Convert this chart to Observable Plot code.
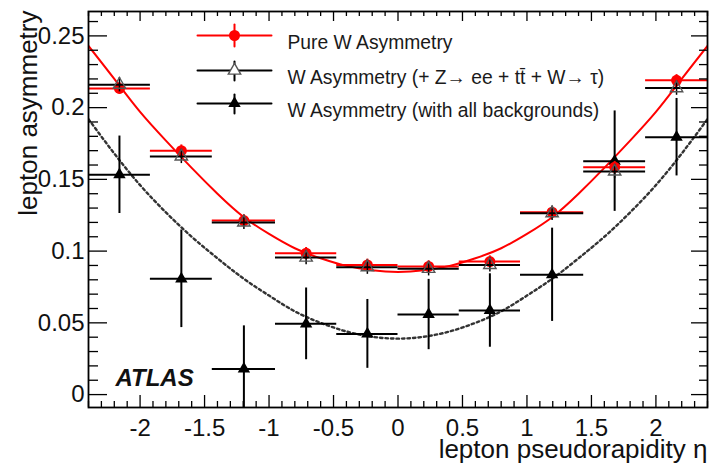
<!DOCTYPE html>
<html>
<head>
<meta charset="utf-8">
<script src="https://cdn.jsdelivr.net/npm/d3@7"></script>
<script src="https://cdn.jsdelivr.net/npm/@observablehq/plot@0.6"></script>
<style>
  html, body { margin: 0; padding: 0; background: #fff; }
  #chart { width: 711px; height: 469px; position: relative; }
</style>
</head>
<body>
<div id="chart"></div>
<script>
// Lepton charge asymmetry per pseudorapidity bin
const binLow  = [-2.4, -1.92, -1.44, -0.95, -0.475, 0, 0.475, 0.95, 1.44, 1.92];
const binHigh = [-1.92, -1.44, -0.95, -0.475, 0, 0.475, 0.95, 1.44, 1.92, 2.4];
const pureW      = [0.2134, 0.170, 0.1213, 0.0985, 0.0904, 0.0893, 0.0927, 0.1271, 0.1585, 0.219];
const pureWErr   = [0.004, 0.004, 0.004, 0.004, 0.004, 0.004, 0.004, 0.004, 0.004, 0.004];
const partialBkg = [0.216, 0.166, 0.120, 0.0955, 0.0888, 0.0877, 0.0904, 0.1264, 0.1555, 0.2136];
const partialErr = [0.005, 0.005, 0.005, 0.005, 0.005, 0.005, 0.005, 0.005, 0.005, 0.005];
const allBkg     = [0.1532, 0.0807, 0.0179, 0.0493, 0.0423, 0.0558, 0.0586, 0.0835, 0.1627, 0.1794];
const allBkgErr  = [0.027, 0.034, 0.030, 0.025, 0.024, 0.0245, 0.0256, 0.0325, 0.035, 0.027];

// Fitted curves sampled along eta
const fitEta  = [-2.4, -2.2, -2.0, -1.8, -1.6, -1.4, -1.2, -1.0, -0.8, -0.6, -0.4, -0.2, 0,
                 0.2, 0.4, 0.6, 0.8, 1.0, 1.2, 1.4, 1.6, 1.8, 2.0, 2.2, 2.4];
const fitPure = [0.243, 0.220, 0.197, 0.177, 0.158, 0.140, 0.124, 0.112, 0.102, 0.0950, 0.0897, 0.0866, 0.0855,
                 0.0866, 0.0897, 0.0950, 0.102, 0.112, 0.124, 0.140, 0.158, 0.177, 0.197, 0.220, 0.243];
const fitAll  = [0.192, 0.168, 0.146, 0.127, 0.110, 0.095, 0.081, 0.069, 0.058, 0.050, 0.0440, 0.0403, 0.039,
                 0.0403, 0.0440, 0.050, 0.058, 0.069, 0.081, 0.095, 0.110, 0.127, 0.146, 0.168, 0.192];

// Axis ticks
const xMajor = [-2, -1.5, -1, -0.5, 0, 0.5, 1, 1.5, 2];
const xMinor = d3.range(-24, 25).map(v => v / 10).filter(v => !xMajor.some(m => Math.abs(m - v) < 1e-9));
const yMajor = [0, 0.05, 0.1, 0.15, 0.2, 0.25];
const yMinor = d3.range(0, 27).map(v => v / 100).filter(v => !yMajor.some(m => Math.abs(m - v) < 1e-9));

const legendLabels = [
  "Pure W Asymmetry",
  "W Asymmetry (+ Z\u2192 ee + tt\u0304 + W\u2192 \u03c4)",
  "W Asymmetry (with all backgrounds)"
];

const bins = binLow.map((lo, i) => ({
  lo, hi: binHigh[i], eta: (lo + binHigh[i]) / 2,
  pure: pureW[i], pureErr: pureWErr[i],
  part: partialBkg[i], partErr: partialErr[i],
  all: allBkg[i], allErr: allBkgErr[i]
}));
const fits = fitEta.map((eta, i) => ({eta, pure: fitPure[i], all: fitAll[i]}));

// Layout
const W = 711, H = 469;
const mL = 88, mR = 4, mT = 11, mB = 62;
const frameW = W - mL - mR, frameH = H - mT - mB;
const xDomain = [-2.4, 2.4];
const yDomain = [-0.009, 0.267];
// data units per pixel, used to size the inward ticks
const xPerPx = (xDomain[1] - xDomain[0]) / frameW;
const yPerPx = (yDomain[1] - yDomain[0]) / frameH;

// Straight stroke used for the legend glyphs
const segShape = {draw(context, l) { context.moveTo(0, 0); context.lineTo(0, -l); }};
const seg = (opts) => Plot.vector([0], {anchor: "start", shape: segShape, stroke: "#000", strokeWidth: 2, frameAnchor: "top-left", ...opts});

// Inward tick marks on the four sides of the frame, drawn as short rules
const tickStyle = {stroke: "#000", strokeWidth: 1.3};
const rows = vals => vals.map(v => ({v}));
const ticksBottom = (vals, len) => Plot.ruleX(rows(vals), {x: "v", y1: yDomain[0], y2: yDomain[0] + len * yPerPx, ...tickStyle});
const ticksTop    = (vals, len) => Plot.ruleX(rows(vals), {x: "v", y1: yDomain[1] - len * yPerPx, y2: yDomain[1], ...tickStyle});
const ticksLeft   = (vals, len) => Plot.ruleY(rows(vals), {y: "v", x1: xDomain[0], x2: xDomain[0] + len * xPerPx, ...tickStyle});
const ticksRight  = (vals, len) => Plot.ruleY(rows(vals), {y: "v", x1: xDomain[1] - len * xPerPx, x2: xDomain[1], ...tickStyle});

const font = "'Liberation Sans', Arial, Helvetica, sans-serif";

const rowDy = [24, 59, 92];
const legendMarks = [
  seg({dx: 109, dy: rowDy[0], rotate: 90, length: 74, stroke: "#ff0000"}),
  seg({dx: 146, dy: rowDy[0] + 11, rotate: 0, length: 22, stroke: "#ff0000"}),
  Plot.dot([0], {frameAnchor: "top-left", dx: 146, dy: rowDy[0], r: 5.5, fill: "#ff0000"}),
  seg({dx: 109, dy: rowDy[1], rotate: 90, length: 74}),
  seg({dx: 146, dy: rowDy[1] + 10, rotate: 0, length: 19}),
  Plot.dot([0], {frameAnchor: "top-left", dx: 146, dy: rowDy[1], r: 4.6, symbol: "triangle", fill: "#fff", stroke: "#555", strokeWidth: 1.4}),
  seg({dx: 109, dy: rowDy[2], rotate: 90, length: 74}),
  seg({dx: 146, dy: rowDy[2] + 10, rotate: 0, length: 19}),
  Plot.dot([0], {frameAnchor: "top-left", dx: 146, dy: rowDy[2], r: 4.6, symbol: "triangle", fill: "#000"}),
  ...legendLabels.map((label, i) => Plot.text([label], {frameAnchor: "top-left", dx: 199, dy: rowDy[i], text: d => d,
    textAnchor: "start", fontSize: 19.3, fill: "#1a1a1a"}))
];

const chart = Plot.plot({
  width: W,
  height: H,
  marginLeft: mL,
  marginRight: mR,
  marginTop: mT,
  marginBottom: mB,
  x: {domain: xDomain},
  y: {domain: yDomain},
  style: {fontFamily: font, background: "#fff", color: "#111"},
  marks: [
    // fitted curves
    Plot.line(fits, {x: "eta", y: "all", stroke: "#333", strokeWidth: 2.4, strokeDasharray: "2.5,3", curve: "natural", clip: true}),
    Plot.line(fits, {x: "eta", y: "pure", stroke: "#ff0000", strokeWidth: 2, curve: "natural", clip: true}),

    // W asymmetry with all backgrounds
    Plot.ruleY(bins, {y: "all", x1: "lo", x2: "hi", stroke: "#000", strokeWidth: 2}),
    Plot.ruleX(bins, {x: "eta", y1: d => d.all - d.allErr, y2: d => d.all + d.allErr, stroke: "#000", strokeWidth: 2, clip: true}),
    Plot.dot(bins, {x: "eta", y: "all", r: 4.6, symbol: "triangle", fill: "#000"}),

    // pure W asymmetry
    Plot.ruleY(bins, {y: "pure", x1: "lo", x2: "hi", stroke: "#ff0000", strokeWidth: 2}),
    Plot.ruleX(bins, {x: "eta", y1: d => d.pure - d.pureErr, y2: d => d.pure + d.pureErr, stroke: "#ff0000", strokeWidth: 2}),
    Plot.dot(bins, {x: "eta", y: "pure", r: 5.5, fill: "#ff0000"}),

    // W asymmetry with Z->ee, ttbar and W->tau backgrounds
    Plot.ruleY(bins, {y: "part", x1: "lo", x2: "hi", stroke: "#000", strokeWidth: 2}),
    Plot.ruleX(bins, {x: "eta", y1: d => d.part - d.partErr, y2: d => d.part + d.partErr, stroke: "#000", strokeWidth: 1.5}),
    Plot.dot(bins, {x: "eta", y: "part", r: 4.6, symbol: "triangle", fill: "none", stroke: "#555", strokeWidth: 1.4}),

    // inward ticks
    ticksBottom(xMajor, 12), ticksBottom(xMinor, 6),
    ticksTop(xMajor, 10), ticksTop(xMinor, 5),
    ticksLeft(yMajor, 19), ticksLeft(yMinor, 10),
    ticksRight(yMajor, 16), ticksRight(yMinor, 8),

    Plot.axisX({ticks: xMajor, tickSize: 0, tickPadding: 11, fontSize: 24, tickFormat: d => String(d), label: null}),
    Plot.axisY({ticks: yMajor, tickSize: 0, tickPadding: 4, fontSize: 24, tickFormat: d => String(d), label: null}),

    Plot.frame({stroke: "#000", strokeWidth: 1.8}),

    // titles
    Plot.text(["lepton pseudorapidity \u03b7"], {frameAnchor: "bottom-right", dy: 50, text: d => d,
      textAnchor: "end", fontSize: 26, fill: "#111"}),
    Plot.text(["lepton asymmetry"], {frameAnchor: "top-left", dx: -70, dy: -1, rotate: -90, text: d => d,
      textAnchor: "end", fontSize: 26, fill: "#111"}),
    Plot.text(["ATLAS"], {frameAnchor: "bottom-left", dx: 27, dy: -22, text: d => d, textAnchor: "start",
      fontSize: 24, fontWeight: "bold", fontStyle: "italic", fill: "#111"}),

    ...legendMarks
  ]
});

document.getElementById("chart").appendChild(chart);
</script>
</body>
</html>
